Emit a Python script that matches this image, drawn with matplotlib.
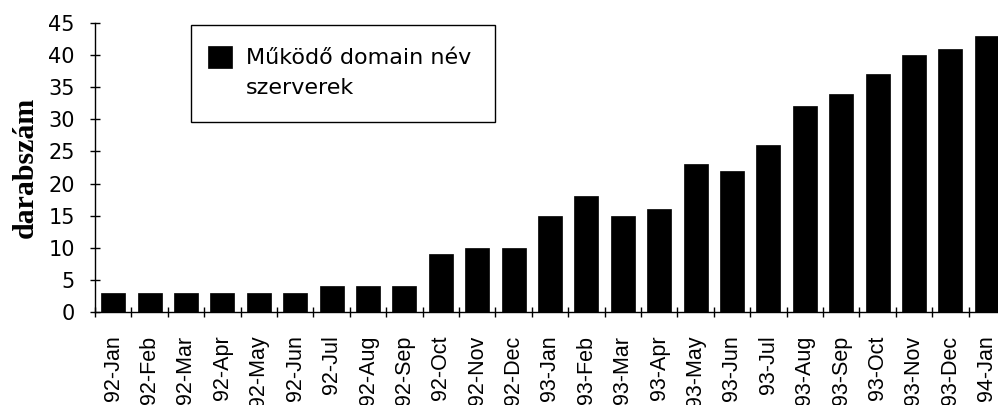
import matplotlib
matplotlib.use("Agg")
import matplotlib.pyplot as plt
import numpy as np
from matplotlib.patches import Rectangle
from matplotlib.container import BarContainer
from matplotlib.legend_handler import HandlerPatch, update_from_first_child

categories = ["92-Jan", "92-Feb", "92-Mar", "92-Apr", "92-May", "92-Jun", "92-Jul",
              "92-Aug", "92-Sep", "92-Oct", "92-Nov", "92-Dec", "93-Jan", "93-Feb",
              "93-Mar", "93-Apr", "93-May", "93-Jun", "93-Jul", "93-Aug", "93-Sep",
              "93-Oct", "93-Nov", "93-Dec", "94-Jan"]
values = [3, 3, 3, 3, 3, 3, 4, 4, 4, 9, 10, 10, 15, 18, 15, 16, 23, 22, 26, 32, 34,
          37, 40, 41, 43]
series_label = "Működő domain név\nszerverek"
y_ticks = [0, 5, 10, 15, 20, 25, 30, 35, 40, 45]

W, H = 998, 405
fig = plt.figure(figsize=(W / 100, H / 100), dpi=100)
ax = fig.add_axes([95 / W, 1 - 312 / H, (1005 - 95) / W, (312 - 23) / H])

x = np.arange(len(categories))
bars = ax.bar(x, values, width=0.66, color="black", edgecolor="black",
              linewidth=0.5, label=series_label)

ax.set_xlim(-0.5, len(categories) - 0.5)
ax.set_ylim(0, 45)
ax.set_yticks(y_ticks)
ax.set_xticks(x)
ax.set_xticklabels(categories, rotation=90, fontsize=15.5, family="Liberation Sans")
ax.set_xticks(np.arange(len(categories) + 1) - 0.5, minor=True)
ax.tick_params(axis="x", which="major", length=0, pad=17)
ax.tick_params(axis="x", which="minor", length=7, direction="inout", width=1)
ax.tick_params(axis="y", which="major", length=7, direction="inout", width=1,
               labelsize=15, pad=11)
for lab in ax.get_yticklabels():
    lab.set_family("DejaVu Sans")

for s in ["top", "right"]:
    ax.spines[s].set_visible(False)
for s in ["left", "bottom"]:
    ax.spines[s].set_color("black")
    ax.spines[s].set_linewidth(1)

ax.set_ylabel("darabszám", family="Liberation Serif", fontweight="bold",
              fontsize=21.5, labelpad=7)


def shifted_patch(legend, orig_handle, xdescent, ydescent, width, height, fontsize):
    return Rectangle((-xdescent - 0.27 * fontsize, -ydescent + 0.675 * fontsize),
                     width, 0.99 * fontsize)


leg = ax.legend(handles=[bars], labels=[series_label],
                bbox_to_anchor=(191 / W, 1 - 25 / H), bbox_transform=fig.transFigure,
                loc="upper left", borderaxespad=0, frameon=True, fancybox=False,
                edgecolor="black", framealpha=1, prop={"family": "DejaVu Sans", "size": 16},
                handlelength=1.07, handleheight=0.98, handletextpad=0.36,
                borderpad=1.05,
                handler_map={BarContainer: HandlerPatch(patch_func=shifted_patch,
                                                        update_func=update_from_first_child)})
leg.get_frame().set_linewidth(1)
for t in leg.get_texts():
    t.set_linespacing(1.62)

fig.savefig("out.png", dpi=100)
